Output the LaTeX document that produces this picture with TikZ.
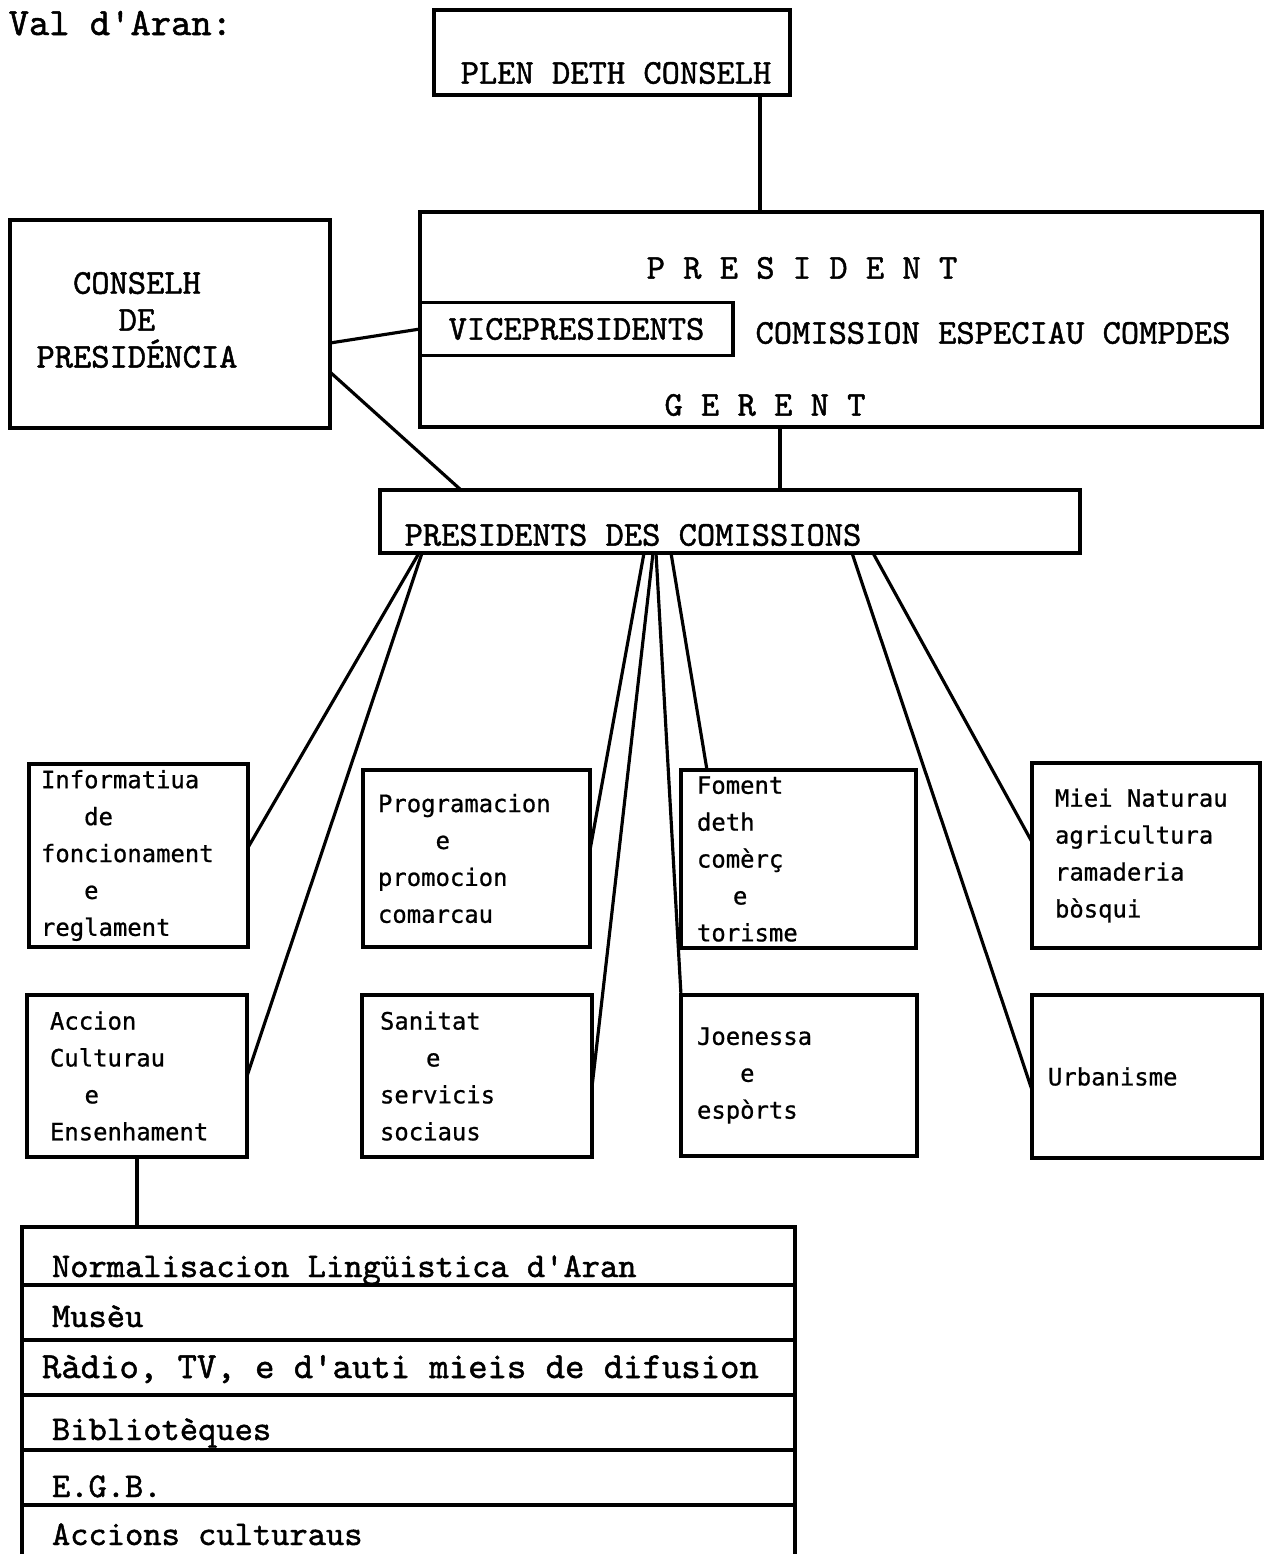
\documentclass[tikz,border=0pt]{standalone}
\usepackage{fontspec}
\newfontfamily\typefont[FakeBold=1.3,WordSpace={1,0,0}]{lmmono10-regular.otf}
\newfontfamily\unitfont[FakeBold=0.8,WordSpace={1,0,0}]{DejaVu Sans Mono}
% indent by n characters of the current mono font
\newcommand\skipch[1]{\hspace*{#1\fontcharwd\font`0}}
% keep full mono spaces in aligned nodes
\newcommand\fullspace{\spaceskip=0pt\relax\xspaceskip=0pt\relax}

\begin{document}
\begin{tikzpicture}[x=0.1mm,y=-0.1mm]

    \tikzset{box/.style = {draw,line width=0.9pt,inner sep=0pt,outer sep=0pt}}
    \tikzset{typed/.style = {font=\typefont\fontsize{9.9}{10.5}\selectfont,inner sep=0pt}}
    \tikzset{unit/.style = {box,font=\unitfont\fontsize{6.8}{10.5}\selectfont,align=left,execute at begin node=\fullspace}}
    \tikzset{row/.style = {box,typed,anchor=north west,minimum width=77.3mm,text width=71.3mm,inner xsep=3mm,align=left,execute at begin node=\fullspace}}
    \tikzset{edge/.style = {line width=0.9pt}}

    \useasboundingbox (0,0) rectangle (1266,1554);

    \node[typed,font=\typefont\fontsize{11}{12}\selectfont,anchor=base west] (vallabel) at (8,35) {Val d'Aran:};

    % top of the chart
    \node[box,minimum width=35.6mm,minimum height=8.5mm] (plen) at (612,52.5) {};
    \node[typed] (plentxt) at (616,73) {PLEN DETH CONSELH};

    \node[box,minimum width=84.2mm,minimum height=21.5mm] (pres) at (841,319.5) {};
    \node[typed] (prestxt) at (802,268) {P R E S I D E N T};
    \node[box,typed,minimum width=31.3mm,minimum height=5.3mm] (vice) at (576.5,329) {VICEPRESIDENTS};
    \node[typed] (comptxt) at (993,333) {COMISSION ESPECIAU COMPDES};
    \node[typed] (gertxt) at (765,405) {G E R E N T};

    \node[box,minimum width=32mm,minimum height=20.8mm] (cdp) at (170,324) {};
    \node[typed,align=center] (cdptxt) at (137,320) {CONSELH\\DE\\PRESIDÉNCIA};

    \node[box,minimum width=70mm,minimum height=6.3mm] (pdc) at (730,521.5) {};
    \node[typed] (pdctxt) at (633,535) {PRESIDENTS DES COMISSIONS};

    % comissions
    \node[unit,minimum width=21.9mm,minimum height=18.3mm,text width=19.5mm] (info) at (138.5,855.5) {Informatiua\\\skipch{3}de\\foncionament\\\skipch{3}e\\reglament};
    \node[unit,minimum width=22mm,minimum height=16.2mm,text width=17.4mm] (accion) at (137,1076) {Accion\\Culturau\\\skipch{2.4}e\\Ensenhament};
    \node[unit,minimum width=22.7mm,minimum height=17.7mm,text width=19.7mm] (prog) at (476.5,858.5) {Programacion\\\skipch{4}e\\promocion\\comarcau};
    \node[unit,minimum width=23mm,minimum height=16.2mm,text width=19.4mm] (sanit) at (477,1076) {Sanitat\\\skipch{3.2}e\\servicis\\sociaus};
    \node[unit,minimum width=23.5mm,minimum height=17.8mm,text width=20.3mm] (foment) at (798.5,859) {Foment\\deth\\comèrç\\\skipch{2.5}e\\torisme};
    \node[unit,minimum width=23.6mm,minimum height=16.1mm,text width=20.4mm] (joen) at (799,1075.5) {Joenessa\\\skipch{3}e\\espòrts};
    \node[unit,minimum width=22.8mm,minimum height=18.5mm,text width=18.2mm] (miei) at (1146,855.5) {Miei Naturau\\agricultura\\ramaderia\\bòsqui};
    \node[unit,minimum width=23mm,minimum height=16.3mm,text width=19.8mm] (urban) at (1147,1076.5) {Urbanisme};

    % list under Accion Culturau
    \node[row,text height=5mm,text depth=0.8mm] (row1) at (22,1227) {Normalisacion Lingüistica d'Aran};
    \node[row,text height=4.2mm,text depth=1.3mm] (row2) at (row1.south west) {Musèu};
    \node[row,text height=3.8mm,text depth=1.7mm,font=\typefont\fontsize{10.5}{10.5}\selectfont] (row3) at (row2.south west) {\hspace*{-1mm}Ràdio, TV, e d'auti mieis de difusion};
    \node[row,text height=4.5mm,text depth=1mm] (row4) at (row3.south west) {Bibliotèques};
    \node[row,text height=4.7mm,text depth=0.8mm] (row5) at (row4.south west) {E.G.B.};
    \node[row,text height=4mm,text depth=1.7mm] (row6) at (row5.south west) {Accions culturaus};

    \draw[edge] ([xshift=14.8mm]plen.south) -- ([xshift=14.8mm]plen.south |- pres.north);
    \draw[edge] ([xshift=-6.1mm]pres.south) -- ([xshift=-6.1mm]pres.south |- pdc.north);
    \draw[edge] ([yshift=-1.9mm]cdp.east) -- (vice.west);
    \draw[edge] ([yshift=-4.8mm]cdp.east) -- ([xshift=8.1mm]pdc.north west);

    \draw[edge] ([xshift=3.9mm]pdc.south west) -- ([yshift=0.8mm]info.east);
    \draw[edge] ([xshift=4.2mm]pdc.south west) -- (accion.east);
    \draw[edge] ([xshift=26.4mm]pdc.south west) -- ([yshift=0.85mm]prog.east);
    \draw[edge] ([xshift=27.3mm]pdc.south west) -- ([yshift=-1.1mm]sanit.east);
    \draw[edge] ([xshift=27.6mm]pdc.south west) -- (joen.north west);
    \draw[edge] ([xshift=29.1mm]pdc.south west) -- ([xshift=2.6mm]foment.north west);
    \draw[edge] ([xshift=49.3mm]pdc.south west) -- ([yshift=1.35mm]miei.west);
    \draw[edge] ([xshift=47.2mm]pdc.south west) -- ([yshift=-1.35mm]urban.west);
    \draw[edge] (accion.south) -- (accion.south |- row1.north);

\end{tikzpicture}
\end{document}
